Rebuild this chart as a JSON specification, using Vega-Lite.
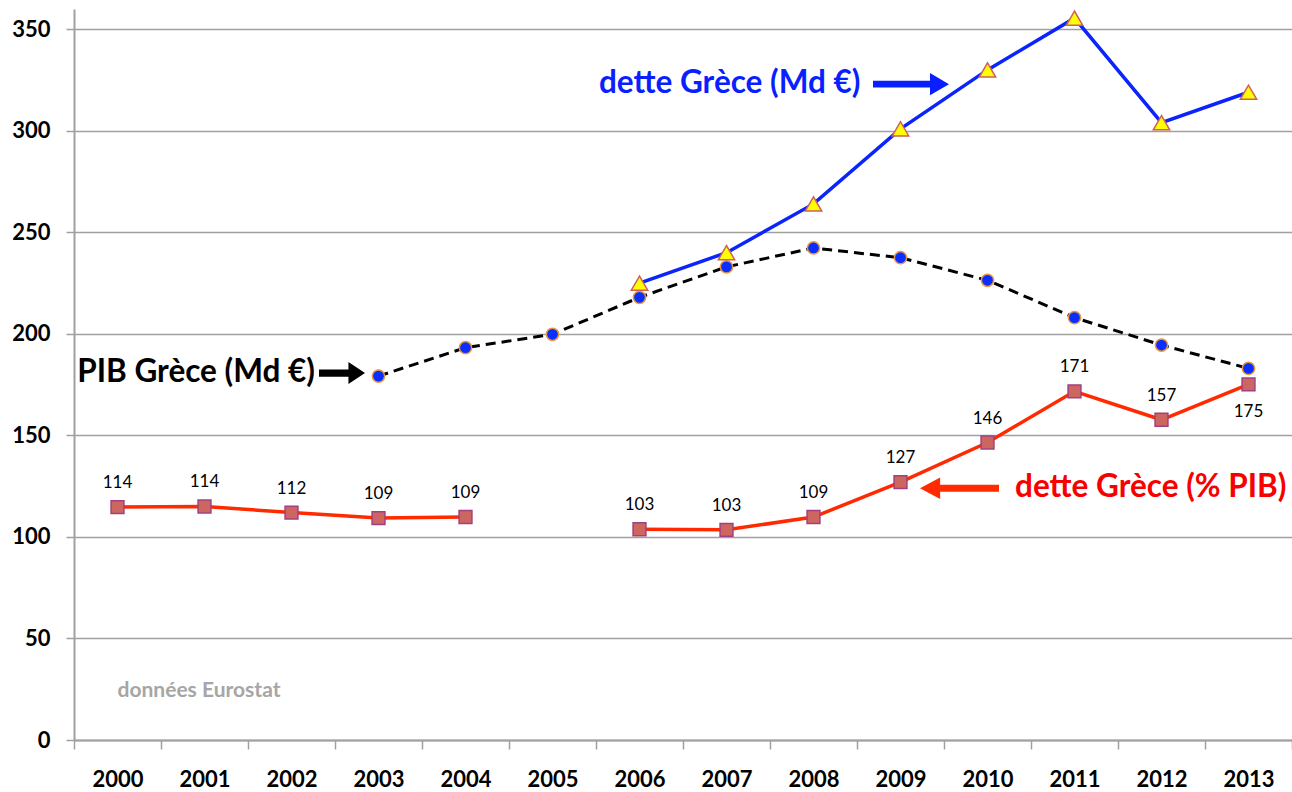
{
  "$schema": "https://vega.github.io/schema/vega-lite/v6.json",
  "width": 1218,
  "height": 731,
  "autosize": "none",
  "padding": {"left": 74, "top": 9, "right": 0, "bottom": 52},
  "background": "white",
  "config": {
    "view": {"stroke": null},
    "font": "Lato",
    "axisX": {
      "labelFont": "Lato", "labelFontSize": 22, "labelFontWeight": "bold", "labelColor": "#000000",
      "labelAngle": 0, "labelPadding": 20, "domainColor": "#a0a0a0", "domainWidth": 2,
      "tickColor": "#a0a0a0", "tickWidth": 1.5, "tickSize": 9, "grid": false, "tickBand": "extent"
    },
    "axisY": {
      "labelFont": "Lato", "labelFontSize": 22, "labelFontWeight": "bold", "labelColor": "#000000",
      "labelPadding": 16, "domainColor": "#a0a0a0", "domainWidth": 2,
      "tickColor": "#a0a0a0", "tickWidth": 1.5, "tickSize": 8,
      "grid": true, "gridColor": "#a0a0a0", "gridWidth": 1.5
    }
  },
  "datasets": {
    "series": [
      {"year": "2000", "pct": 114.7, "pct_lbl": 114, "pib": null, "dette": null},
      {"year": "2001", "pct": 115.0, "pct_lbl": 114, "pib": null, "dette": null},
      {"year": "2002", "pct": 112.0, "pct_lbl": 112, "pib": null, "dette": null},
      {"year": "2003", "pct": 109.3, "pct_lbl": 109, "pib": 179.2, "dette": null},
      {"year": "2004", "pct": 109.8, "pct_lbl": 109, "pib": 193.2, "dette": null},
      {"year": "2005", "pct": null, "pct_lbl": null, "pib": 199.8, "dette": null},
      {"year": "2006", "pct": 103.8, "pct_lbl": 103, "pib": 218.0, "dette": 225.0},
      {"year": "2007", "pct": 103.5, "pct_lbl": 103, "pib": 233.0, "dette": 240.0},
      {"year": "2008", "pct": 109.8, "pct_lbl": 109, "pib": 242.3, "dette": 264.0},
      {"year": "2009", "pct": 127.0, "pct_lbl": 127, "pib": 237.5, "dette": 301.0},
      {"year": "2010", "pct": 146.5, "pct_lbl": 146, "pib": 226.4, "dette": 330.0},
      {"year": "2011", "pct": 171.7, "pct_lbl": 171, "pib": 208.0, "dette": 355.5},
      {"year": "2012", "pct": 157.7, "pct_lbl": 157, "pib": 194.5, "dette": 304.0},
      {"year": "2013", "pct": 175.1, "pct_lbl": 175, "pib": 183.0, "dette": 319.0}
    ],
    "notes": [
      {"note": "dette", "year": "2009", "value": 323, "text": "dette Grèce (Md €)"},
      {"note": "pib", "year": "2003", "value": 180.7, "text": "PIB Grèce (Md €)"},
      {"note": "pct", "year": "2010", "value": 124, "text": "dette Grèce (% PIB)"},
      {"note": "pct_arrow", "year": "2009", "value": 124, "text": ""},
      {"note": "source", "year": "2000", "value": 24, "text": "données Eurostat"}
    ]
  },
  "encoding": {
    "x": {
      "field": "year", "type": "ordinal", "bandPosition": 0.5,
      "scale": {"type": "band", "paddingInner": 0, "paddingOuter": 0,
        "domain": ["2000","2001","2002","2003","2004","2005","2006","2007","2008","2009","2010","2011","2012","2013"]},
      "axis": {"title": null}
    }
  },
  "layer": [
    {
      "data": {"name": "series"},
      "mark": {"type": "line", "color": "#ff2a00", "strokeWidth": 3.5, "invalid": "break-paths-show-domains"},
      "encoding": {"y": {"field": "pct", "type": "quantitative", "scale": {"domain": [0, 360], "nice": false, "zero": true}, "axis": {"title": null, "values": [0,50,100,150,200,250,300,350]}}}
    },
    {
      "data": {"name": "series"},
      "mark": {"type": "point", "shape": "square", "filled": true, "size": 165, "fill": "#cd6660", "stroke": "#a0407f", "strokeWidth": 1.5, "opacity": 1, "invalid": "filter"},
      "encoding": {"y": {"field": "pct", "type": "quantitative", "axis": {"title": null, "values": [0,50,100,150,200,250,300,350]}}}
    },
    {
      "data": {"name": "series"},
      "transform": [{"filter": "datum.pct_lbl != null && datum.year != '2013'"}],
      "mark": {"type": "text", "font": "Lato", "fontSize": 17, "color": "#000000", "dy": -24, "baseline": "middle"},
      "encoding": {"y": {"field": "pct", "type": "quantitative", "axis": {"title": null, "values": [0,50,100,150,200,250,300,350]}}, "text": {"field": "pct_lbl"}}
    },
    {
      "data": {"name": "series"},
      "transform": [{"filter": "datum.year == '2013'"}],
      "mark": {"type": "text", "font": "Lato", "fontSize": 17, "color": "#000000", "dy": 28, "baseline": "middle"},
      "encoding": {"y": {"field": "pct", "type": "quantitative", "axis": {"title": null, "values": [0,50,100,150,200,250,300,350]}}, "text": {"field": "pct_lbl"}}
    },
    {
      "data": {"name": "series"},
      "mark": {"type": "line", "color": "#000000", "strokeWidth": 3, "strokeDash": [10, 6], "invalid": "break-paths-show-domains"},
      "encoding": {"y": {"field": "pib", "type": "quantitative", "axis": {"title": null, "values": [0,50,100,150,200,250,300,350]}}}
    },
    {
      "data": {"name": "series"},
      "mark": {"type": "point", "shape": "circle", "filled": true, "size": 150, "fill": "#0a2eff", "stroke": "#e8963c", "strokeWidth": 1.5, "opacity": 1, "invalid": "filter"},
      "encoding": {"y": {"field": "pib", "type": "quantitative", "axis": {"title": null, "values": [0,50,100,150,200,250,300,350]}}}
    },
    {
      "data": {"name": "series"},
      "mark": {"type": "line", "color": "#0b24fb", "strokeWidth": 3.5, "invalid": "break-paths-show-domains"},
      "encoding": {"y": {"field": "dette", "type": "quantitative", "axis": {"title": null, "values": [0,50,100,150,200,250,300,350]}}}
    },
    {
      "data": {"name": "series"},
      "mark": {"type": "point", "shape": "triangle-up", "filled": true, "size": 270, "fill": "#ffff00", "stroke": "#d0605a", "strokeWidth": 1.5, "opacity": 1, "invalid": "filter"},
      "encoding": {"y": {"field": "dette", "type": "quantitative", "axis": {"title": null, "values": [0,50,100,150,200,250,300,350]}}}
    },
    {
      "data": {"name": "notes"},
      "transform": [{"filter": "datum.note == 'dette'"}],
      "mark": {"type": "text", "font": "Lato", "fontSize": 31.5, "fontWeight": "bold", "color": "#0a1fff", "align": "right", "baseline": "middle", "xOffset": -40},
      "encoding": {"y": {"field": "value", "type": "quantitative", "axis": {"title": null, "values": [0,50,100,150,200,250,300,350]}}, "text": {"field": "text"}}
    },
    {
      "data": {"name": "notes"},
      "transform": [{"filter": "datum.note == 'dette'"}],
      "mark": {"type": "point", "shape": "M-1,-0.09L0.5,-0.09L0.5,-0.29L1,0L0.5,0.29L0.5,0.09L-1,0.09Z", "size": 5776, "filled": true, "fill": "#0a1fff", "strokeWidth": 0, "opacity": 1, "xOffset": 10.5},
      "encoding": {"y": {"field": "value", "type": "quantitative", "axis": {"title": null, "values": [0,50,100,150,200,250,300,350]}}}
    },
    {
      "data": {"name": "notes"},
      "transform": [{"filter": "datum.note == 'pib'"}],
      "mark": {"type": "text", "font": "Lato", "fontSize": 31.5, "fontWeight": "bold", "color": "#000000", "align": "right", "baseline": "middle", "xOffset": -63.5},
      "encoding": {"y": {"field": "value", "type": "quantitative", "axis": {"title": null, "values": [0,50,100,150,200,250,300,350]}}, "text": {"field": "text"}}
    },
    {
      "data": {"name": "notes"},
      "transform": [{"filter": "datum.note == 'pib'"}],
      "mark": {"type": "point", "shape": "M-1,-0.16L0.28,-0.16L0.28,-0.48L1,0L0.28,0.48L0.28,0.16L-1,0.16Z", "size": 2116, "filled": true, "fill": "#000000", "strokeWidth": 0, "opacity": 1, "xOffset": -36.5},
      "encoding": {"y": {"field": "value", "type": "quantitative", "axis": {"title": null, "values": [0,50,100,150,200,250,300,350]}}}
    },
    {
      "data": {"name": "notes"},
      "transform": [{"filter": "datum.note == 'pct'"}],
      "mark": {"type": "text", "font": "Lato", "fontSize": 31.5, "fontWeight": "bold", "color": "#f90000", "align": "left", "baseline": "middle", "xOffset": 27.5},
      "encoding": {"y": {"field": "value", "type": "quantitative", "axis": {"title": null, "values": [0,50,100,150,200,250,300,350]}}, "text": {"field": "text"}}
    },
    {
      "data": {"name": "notes"},
      "transform": [{"filter": "datum.note == 'pct_arrow'"}],
      "mark": {"type": "point", "shape": "M1,-0.09L-0.49,-0.09L-0.49,-0.27L-1,0L-0.49,0.27L-0.49,0.09L1,0.09Z", "size": 6241, "filled": true, "fill": "#ff2a00", "strokeWidth": 0, "opacity": 1, "xOffset": 59},
      "encoding": {"y": {"field": "value", "type": "quantitative", "axis": {"title": null, "values": [0,50,100,150,200,250,300,350]}}}
    },
    {
      "data": {"name": "notes"},
      "transform": [{"filter": "datum.note == 'source'"}],
      "mark": {"type": "text", "font": "Lato", "fontSize": 21, "fontWeight": "bold", "color": "#a6a6a6", "align": "left", "baseline": "middle"},
      "encoding": {"y": {"field": "value", "type": "quantitative", "axis": {"title": null, "values": [0,50,100,150,200,250,300,350]}}, "text": {"field": "text"}}
    }
  ]
}
